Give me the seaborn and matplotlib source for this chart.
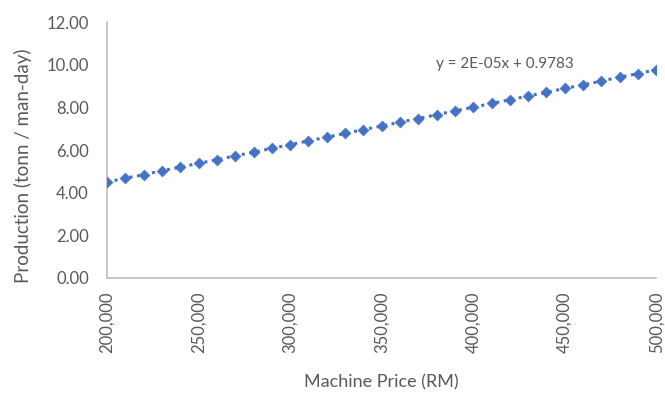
import matplotlib
matplotlib.use('Agg')
import matplotlib.pyplot as plt
import matplotlib.ticker as mticker
import seaborn as sns
import pandas as pd

# machine price (RM) vs production (tonn / man-day)
price = [200000, 210000, 220000, 230000, 240000, 250000, 260000, 270000,
         280000, 290000, 300000, 310000, 320000, 330000, 340000, 350000,
         360000, 370000, 380000, 390000, 400000, 410000, 420000, 430000,
         440000, 450000, 460000, 470000, 480000, 490000, 500000]
production = [4.50, 4.68, 4.85, 5.03, 5.20, 5.38, 5.55, 5.73, 5.90, 6.08,
              6.26, 6.43, 6.61, 6.78, 6.96, 7.13, 7.31, 7.48, 7.66, 7.84,
              8.01, 8.19, 8.36, 8.54, 8.71, 8.89, 9.06, 9.24, 9.42, 9.59, 9.77]
equation = 'y = 2E-05x + 0.9783'

df = pd.DataFrame({'price': price, 'production': production})

sns.set_theme(style='white')
plt.rcParams['font.family'] = ['Lato', 'DejaVu Sans']

blue = '#4472C4'
grey_txt = '#595959'
grey_ax = '#BFBFBF'

fig = plt.figure(figsize=(6.65, 3.96), dpi=100)
ax = fig.add_axes([0.161, 0.298, 0.826, 0.646])

sns.lineplot(data=df, x='price', y='production', ax=ax, color=blue,
             linestyle=(0, (1, 1.5)), linewidth=2.2)
sns.scatterplot(data=df, x='price', y='production', ax=ax, color=blue,
                marker='D', s=30, edgecolor=blue, linewidth=0.5, zorder=3)

ax.set_xlim(200000, 500000)
ax.set_ylim(0, 12)
ax.xaxis.set_major_locator(mticker.MultipleLocator(50000))
ax.yaxis.set_major_locator(mticker.MultipleLocator(2))
ax.xaxis.set_major_formatter(mticker.FuncFormatter(lambda v, p: f'{v:,.0f}'))
ax.yaxis.set_major_formatter(mticker.FuncFormatter(lambda v, p: f'{v:.2f}'))
ax.tick_params(axis='both', length=0, labelsize=12, colors=grey_txt)
ax.tick_params(axis='y', pad=13)
ax.tick_params(axis='x', pad=10)
plt.setp(ax.get_xticklabels(), rotation=90)

for side in ['top', 'right']:
    ax.spines[side].set_visible(False)
for side in ['left', 'bottom']:
    ax.spines[side].set_color(grey_ax)
    ax.spines[side].set_linewidth(1.2)

ax.set_xlabel('Machine Price (RM)', fontsize=13, color=grey_txt)
ax.set_ylabel('Production (tonn / man-day)', fontsize=13.5, color=grey_txt)
ax.xaxis.set_label_coords(0.5, -0.375)
ax.yaxis.set_label_coords(-0.136, 0.44)

ax.text(379700, 10.03, equation, fontsize=11, color=grey_txt, va='center', ha='left')

fig.savefig('out.png', dpi=100)
plt.close(fig)
